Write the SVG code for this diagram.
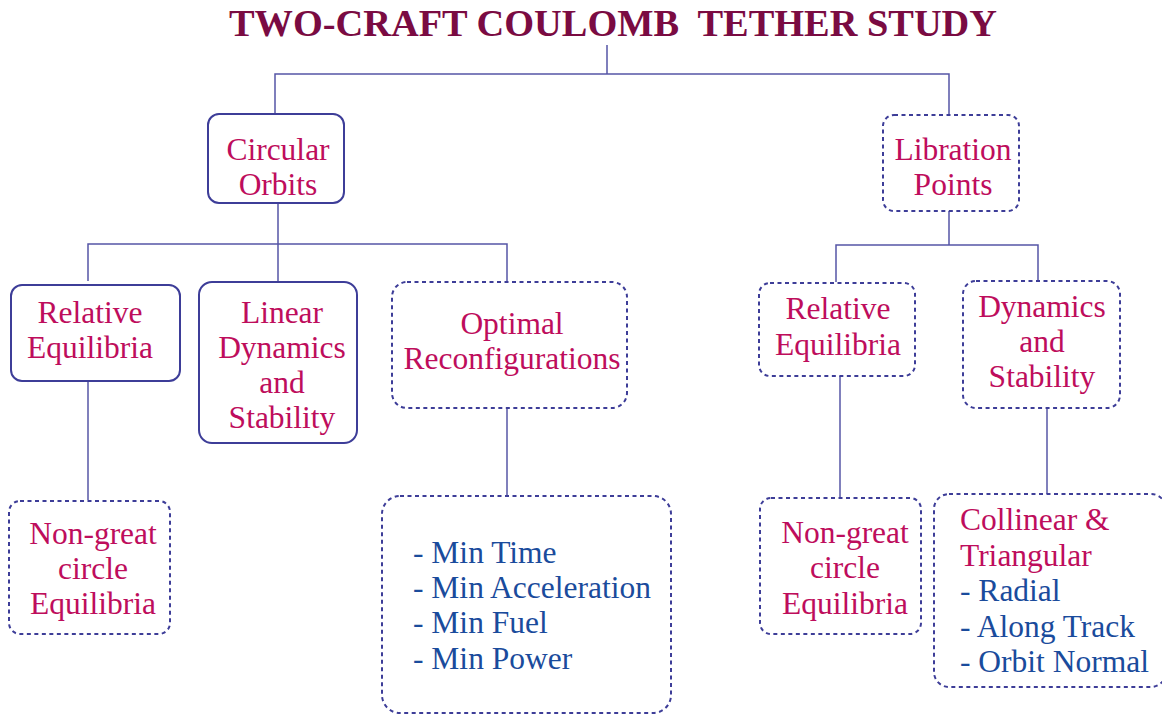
<svg xmlns="http://www.w3.org/2000/svg" width="1162" height="715" viewBox="0 0 1162 715">
  <style>
    .title { font-family: "Liberation Serif", "Times New Roman", serif; font-weight: bold; font-size: 37px; fill: #7a0b42; }
    .lbl { font-family: "Liberation Serif", "Times New Roman", serif; font-size: 31.5px; fill: #be0d5c; }
    .item { font-family: "Liberation Serif", "Times New Roman", serif; font-size: 31.5px; fill: #1a4b9c; }
    .solid { fill: #ffffff; stroke: #3d3d98; stroke-width: 2; }
    .dotted { fill: #ffffff; stroke: #3d3d98; stroke-width: 2; stroke-dasharray: 4 3.5; }
    .link { fill: none; stroke: #5656a6; stroke-width: 1.5; }
  </style>
  <rect width="1162" height="715" fill="#ffffff"/>

  <text class="title" x="613" y="36" text-anchor="middle" textLength="768" lengthAdjust="spacingAndGlyphs" xml:space="preserve">TWO-CRAFT COULOMB  TETHER STUDY</text>

  <g id="connectors">
    <path class="link" d="M607 45 V74 M275 114 V74 H949 V115"/>
    <path class="link" d="M278 203 V244 M88 281 V244 H507 V281 M278 244 V282"/>
    <path class="link" d="M88 381 V500"/>
    <path class="link" d="M507 408 V495"/>
    <path class="link" d="M949 211 V245 M836 282 V245 H1038 V280"/>
    <path class="link" d="M840 376 V498"/>
    <path class="link" d="M1047 408 V494"/>
  </g>

  <g id="circular-orbits">
    <rect class="solid" x="208" y="114" width="136" height="89" rx="11"/>
    <text class="lbl" x="278" y="160" text-anchor="middle">Circular</text>
    <text class="lbl" x="278" y="195" text-anchor="middle">Orbits</text>
  </g>

  <g id="libration-points">
    <rect class="dotted" x="883" y="115" width="136" height="96" rx="11"/>
    <text class="lbl" x="953" y="160" text-anchor="middle">Libration</text>
    <text class="lbl" x="953" y="195" text-anchor="middle">Points</text>
  </g>

  <g id="co-relative-equilibria">
    <rect class="solid" x="11" y="285" width="169" height="96" rx="11"/>
    <text class="lbl" x="90" y="323" text-anchor="middle">Relative</text>
    <text class="lbl" x="90" y="358" text-anchor="middle">Equilibria</text>
  </g>

  <g id="linear-dynamics">
    <rect class="solid" x="199" y="282" width="158" height="161" rx="13"/>
    <text class="lbl" x="282" y="323" text-anchor="middle">Linear</text>
    <text class="lbl" x="282" y="358" text-anchor="middle">Dynamics</text>
    <text class="lbl" x="282" y="393" text-anchor="middle">and</text>
    <text class="lbl" x="282" y="428" text-anchor="middle">Stability</text>
  </g>

  <g id="optimal-reconfigurations">
    <rect class="dotted" x="392" y="282" width="235" height="126" rx="15"/>
    <text class="lbl" x="512" y="334" text-anchor="middle">Optimal</text>
    <text class="lbl" x="512" y="369" text-anchor="middle">Reconfigurations</text>
  </g>

  <g id="co-non-great-circle">
    <rect class="dotted" x="9" y="501" width="161" height="133" rx="11"/>
    <text class="lbl" x="93" y="544" text-anchor="middle">Non-great</text>
    <text class="lbl" x="93" y="579" text-anchor="middle">circle</text>
    <text class="lbl" x="93" y="614" text-anchor="middle">Equilibria</text>
  </g>

  <g id="cost-functions">
    <rect class="dotted" x="382" y="496" width="289" height="217" rx="18"/>
    <text class="item" x="413" y="563">- Min Time</text>
    <text class="item" x="413" y="598">- Min Acceleration</text>
    <text class="item" x="413" y="633">- Min Fuel</text>
    <text class="item" x="413" y="669">- Min Power</text>
  </g>

  <g id="lp-relative-equilibria">
    <rect class="dotted" x="759" y="283" width="156" height="93" rx="11"/>
    <text class="lbl" x="838" y="319" text-anchor="middle">Relative</text>
    <text class="lbl" x="838" y="355" text-anchor="middle">Equilibria</text>
  </g>

  <g id="lp-dynamics-stability">
    <rect class="dotted" x="963" y="281" width="157" height="127" rx="13"/>
    <text class="lbl" x="1042" y="317" text-anchor="middle">Dynamics</text>
    <text class="lbl" x="1042" y="352" text-anchor="middle">and</text>
    <text class="lbl" x="1042" y="387" text-anchor="middle">Stability</text>
  </g>

  <g id="lp-non-great-circle">
    <rect class="dotted" x="760" y="498" width="161" height="136" rx="11"/>
    <text class="lbl" x="845" y="543" text-anchor="middle">Non-great</text>
    <text class="lbl" x="845" y="578" text-anchor="middle">circle</text>
    <text class="lbl" x="845" y="614" text-anchor="middle">Equilibria</text>
  </g>

  <g id="collinear-triangular">
    <rect class="dotted" x="934" y="494" width="232" height="193" rx="15"/>
    <text class="lbl" x="960" y="530">Collinear &amp;</text>
    <text class="lbl" x="960" y="566">Triangular</text>
    <text class="item" x="960" y="601">- Radial</text>
    <text class="item" x="960" y="637">- Along Track</text>
    <text class="item" x="960" y="672">- Orbit Normal</text>
  </g>
</svg>
